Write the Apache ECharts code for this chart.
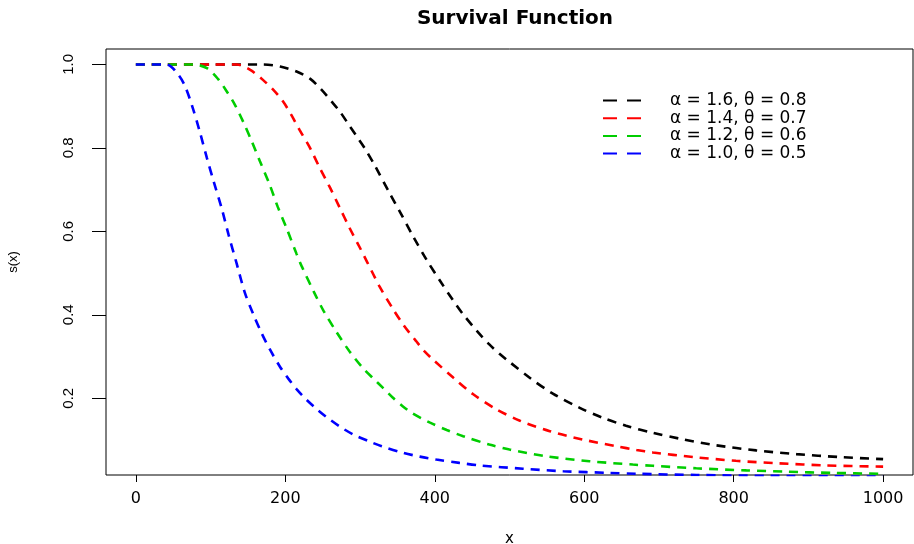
<!DOCTYPE html>
<html>
<head>
<meta charset="utf-8">
<title>Survival Function</title>
<script src="https://cdn.jsdelivr.net/npm/echarts@6/dist/echarts.min.js"></script>
<style>
  html, body { margin: 0; padding: 0; background: #fff; }
  #chart { width: 914px; height: 544px; }
</style>
</head>
<body>
<div id="chart"></div>
<script>
// values, [x, S(x)]
var black = [[0, 1], [100, 1], [170, 1], [193, 0.995], [215, 0.983], [233, 0.966], [248, 0.94],
  [262, 0.911], [273, 0.887], [284, 0.858], [295, 0.829], [306, 0.8], [320, 0.757], [340, 0.69],
  [353, 0.648], [371, 0.588], [389, 0.532], [409, 0.476], [424, 0.436], [438, 0.401], [456, 0.362],
  [473, 0.329], [487, 0.306], [500, 0.287], [527, 0.249], [558, 0.211], [594, 0.177], [625, 0.153],
  [656, 0.134], [692, 0.117], [728, 0.103], [777, 0.087], [830, 0.075], [884, 0.066], [942, 0.059],
  [1000, 0.054]];
var red = [[0, 1], [100, 1], [135, 1], [153, 0.987], [170, 0.963], [184, 0.939], [197, 0.911],
  [208, 0.879], [219, 0.843], [233, 0.8], [246, 0.752], [260, 0.704], [273, 0.656], [286, 0.608],
  [300, 0.56], [309, 0.528], [318, 0.496], [326, 0.468], [344, 0.414], [358, 0.376], [375, 0.337],
  [386, 0.313], [398, 0.292], [425, 0.249], [451, 0.21], [482, 0.174], [514, 0.146], [554, 0.121],
  [598, 0.101], [643, 0.085], [670, 0.076], [692, 0.07], [746, 0.059], [803, 0.05], [861, 0.044],
  [924, 0.039], [1000, 0.036]];
var green = [[0, 1], [77, 1], [95, 0.991], [110, 0.965], [121, 0.937], [132, 0.905], [144, 0.861],
  [155, 0.816], [166, 0.768], [179, 0.712], [190, 0.658], [202, 0.606], [215, 0.546], [222, 0.516],
  [239, 0.452], [251, 0.41], [268, 0.36], [286, 0.312], [304, 0.272], [318, 0.247], [330, 0.226],
  [344, 0.201], [357, 0.181], [370, 0.164], [393, 0.142], [416, 0.124], [438, 0.109], [473, 0.089],
  [500, 0.077], [549, 0.061], [607, 0.049], [665, 0.041], [692, 0.038], [750, 0.032], [817, 0.027],
  [870, 0.024], [933, 0.021], [1000, 0.019]];
var blue = [[0, 1], [41, 1], [57, 0.975], [66, 0.947], [75, 0.902], [85, 0.842], [95, 0.776],
  [104, 0.72], [115, 0.654], [124, 0.592], [135, 0.522], [146, 0.452], [157, 0.402], [168, 0.357],
  [179, 0.318], [193, 0.275], [204, 0.247], [215, 0.222], [228, 0.197], [242, 0.174], [255, 0.155],
  [273, 0.132], [291, 0.113], [313, 0.096], [329, 0.085], [358, 0.069], [380, 0.06], [402, 0.053],
  [433, 0.045], [460, 0.039], [518, 0.031], [572, 0.025], [634, 0.021], [670, 0.019], [750, 0.016],
  [850, 0.014], [1000, 0.012]];

var names = ['α = 1.6, θ = 0.8', 'α = 1.4, θ = 0.7', 'α = 1.2, θ = 0.6', 'α = 1.0, θ = 0.5'];
var xTicks = [0, 200, 400, 600, 800, 1000];
var yTicks = [0.2, 0.4, 0.6, 0.8, 1.0];

var font = '"Liberation Sans", Arial, Helvetica, sans-serif';
var wide = '"DejaVu Sans", Verdana, sans-serif';

function curve(name, data, color) {
  return {
    name: name,
    type: 'line',
    data: data,
    smooth: 0.3,
    symbol: 'none',
    clip: true,
    lineStyle: { color: color, width: 2.6, type: [9, 7] },
    itemStyle: { color: color }
  };
}

var chart = echarts.init(document.getElementById('chart'));
chart.setOption({
  animation: false,
  title: {
    text: 'Survival Function',
    left: 510,
    textAlign: 'center',
    top: 4,
    textStyle: { fontFamily: wide, fontWeight: 'bold', fontSize: 20, color: '#000' }
  },
  legend: {
    left: 603,
    top: 92,
    padding: 0,
    orient: 'vertical',
    // two short dashes, like the R legend
    icon: 'path://M0,0H14V2H0Z M24,0H38V2H24Z',
    itemWidth: 38,
    itemHeight: 2.2,
    itemGap: 0.7,
    textStyle: { fontFamily: wide, fontSize: 17, lineHeight: 16, color: '#000', padding: [0, 0, 0, 24] },
    data: names
  },
  grid: {
    left: 106, right: 1, top: 49, bottom: 69,
    outerBoundsMode: 'none',
    show: true, borderColor: '#000', borderWidth: 1
  },
  xAxis: {
    type: 'value',
    min: -40,
    max: 1040,
    name: 'x',
    nameLocation: 'middle',
    nameGap: 57,
    nameTextStyle: { fontFamily: wide, fontSize: 15, color: '#000' },
    axisLine: { show: false, onZero: false },
    splitLine: { show: false },
    axisTick: { show: true, length: 7, customValues: xTicks, lineStyle: { color: '#000' } },
    axisLabel: {
      customValues: xTicks, margin: 16, fontFamily: wide, fontSize: 16, color: '#000',
      formatter: function (v) { return String(v); }
    }
  },
  yAxis: {
    type: 'value',
    min: 0.016,
    max: 1.037,
    name: 's(x)',
    nameLocation: 'middle',
    nameGap: 86,
    nameRotate: 90,
    nameTextStyle: { fontFamily: font, fontSize: 13, color: '#000' },
    axisLine: { show: false, onZero: false },
    splitLine: { show: false },
    axisTick: { show: true, length: 14, customValues: yTicks, lineStyle: { color: '#000' } },
    axisLabel: {
      customValues: yTicks, rotate: 90, margin: 30,
      fontFamily: font, fontSize: 15, color: '#000',
      formatter: function (v) { return v.toFixed(1); }
    }
  },
  series: [
    curve(names[0], black, '#000000'),
    curve(names[1], red, '#ff0000'),
    curve(names[2], green, '#00cd00'),
    curve(names[3], blue, '#0000ff')
  ]
});
</script>
</body>
</html>
